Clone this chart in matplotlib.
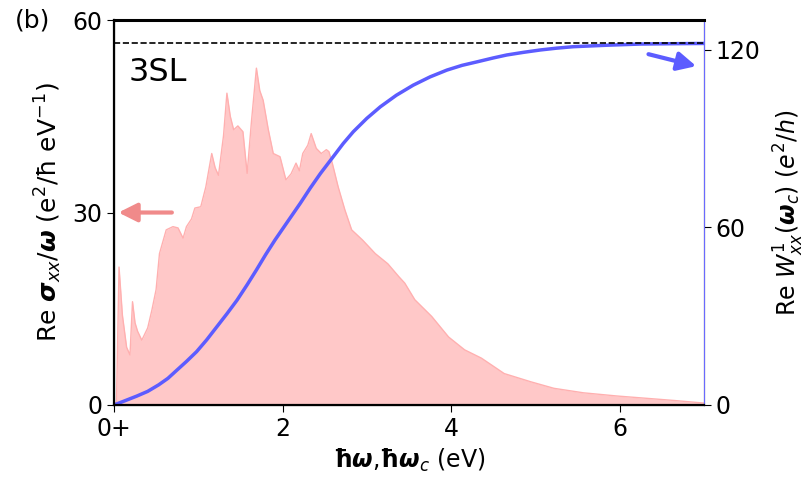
import matplotlib.pyplot as plt

# Re sigma_xx / omega (left axis)
sig_x = [0.0, 0.03, 0.06, 0.10, 0.15, 0.19, 0.22, 0.25, 0.28, 0.33, 0.40, 0.45, 0.50, 0.54,
         0.62, 0.70, 0.76, 0.82, 0.86, 0.92, 0.96, 1.03, 1.09, 1.16, 1.20, 1.24, 1.30, 1.34,
         1.38, 1.42, 1.47, 1.53, 1.58, 1.63, 1.69, 1.73, 1.77, 1.83, 1.89, 1.97, 2.04, 2.10,
         2.16, 2.20, 2.24, 2.30, 2.34, 2.40, 2.46, 2.52, 2.55, 2.59, 2.66, 2.74, 2.82, 2.95,
         3.10, 3.25, 3.38, 3.45, 3.57, 3.77, 3.97, 4.16, 4.36, 4.63, 4.95, 5.22, 5.57, 5.97,
         6.36, 6.65, 7.0]
sig_y = [0, 0.5, 21.5, 14, 9, 7.8, 16.1, 12.8, 11.5, 10.1, 12, 14.8, 18, 23.6,
         27.3, 27.8, 27.6, 26, 27.8, 29, 30.7, 30.9, 34, 39.2, 37, 35.8, 42, 48.6,
         45, 42.9, 43.5, 42.6, 36.1, 44, 52.5, 49, 47.5, 43, 39.2, 38.7, 35.1, 36,
         37.7, 36.5, 39.2, 40.5, 42.3, 40, 39.2, 39.8, 39.5, 37.7, 34, 30.4, 27.3, 25.7,
         23.6, 22, 20, 19, 16.4, 13.8, 10.6, 8.6, 7.3, 4.9, 3.6, 2.6, 1.9, 1.4,
         1.0, 0.7, 0.3]

# Re W^1_xx(omega_c) (right axis)
w_x = [0, 0.10, 0.27, 0.40, 0.53, 0.64, 0.74, 0.86, 0.98, 1.10, 1.22, 1.34, 1.46, 1.58,
       1.69, 1.80, 1.91, 2.05, 2.21, 2.33, 2.45, 2.60, 2.72, 2.84, 3.00, 3.16, 3.35,
       3.55, 3.75, 3.95, 4.13, 4.31, 4.50, 4.66, 4.86, 5.06, 5.25, 5.45, 5.85, 6.25, 6.6, 7.0]
w_y = [0, 1.1, 3.0, 4.6, 6.8, 9.0, 11.6, 14.7, 18.0, 22.0, 26.4, 30.8, 35.4, 40.6,
       45.6, 50.8, 55.7, 61.5, 68.1, 73.3, 78.2, 83.8, 88.3, 92.3, 96.8, 100.7, 104.6,
       108.0, 110.8, 113.1, 114.7, 115.9, 117.2, 118.2, 119.1, 119.9, 120.5, 121.0, 121.5,
       121.9, 122.0, 122.1]

w_limit = 122.4
xticks = [0, 2, 4, 6]
xticklabels = ['0+', '2', '4', '6']

plt.rcParams['font.family'] = 'DejaVu Sans'
plt.rcParams['mathtext.fontset'] = 'dejavusans'
plt.rcParams['font.size'] = 17

fig = plt.figure(figsize=(8.06, 4.83), dpi=100)
ax = fig.add_axes([0.1414, 0.1615, 0.732, 0.797])

ax.fill_between(sig_x, sig_y, color='#ffc8c8', lw=0)
ax.plot(sig_x, sig_y, color='#ffb0b0', lw=1)
ax.set_xlim(0, 7)
ax.set_ylim(0, 60)
ax.set_yticks([0, 30, 60])
ax.set_xticks(xticks)
ax.set_xticklabels(xticklabels)
ax.set_xlabel(r'$\boldsymbol{\hbar\omega}$,$\boldsymbol{\hbar\omega}_c$ (eV)', fontsize=17, labelpad=4)
ax.set_ylabel(r'Re $\boldsymbol{\sigma}_{xx}/\boldsymbol{\omega}$ (e$^2$/ħ eV$^{-1}$)', fontsize=18,
              labelpad=6)
ax.tick_params(labelsize=17, length=5)
ax.text(0.025, 0.905, '3SL', transform=ax.transAxes, fontsize=23, va='top')
ax.annotate('', xy=(0.02, 30), xytext=(0.72, 30),
            arrowprops=dict(arrowstyle='-|>', color='#f08a8a', lw=3, mutation_scale=28))

ax2 = ax.twinx()
ax2.plot(w_x, w_y, color='#5c5cff', lw=2.5)
ax2.axhline(w_limit, color='black', ls='--', lw=1.2)
ax2.set_ylim(0, 130)
ax2.set_yticks([0, 60, 120])
ax2.tick_params(labelsize=17, length=5)
ax2.set_ylabel(r'Re $W^1_{xx}(\boldsymbol{\omega}_c)$ ($e^2/h$)', fontsize=17, labelpad=8)
ax2.spines['right'].set_color('#6a6aff')
ax2.annotate('', xy=(6.94, 114.2), xytext=(6.31, 118.7),
             arrowprops=dict(arrowstyle='-|>', color='#5c5cff', lw=3, mutation_scale=28))

for s in ['top', 'bottom', 'left']:
    ax2.spines[s].set_linewidth(1.6)
ax2.spines['top'].set_linewidth(2.2)

fig.text(0.018, 0.958, '(b)', fontsize=18, va='center')

plt.savefig('out.png', dpi=100)
